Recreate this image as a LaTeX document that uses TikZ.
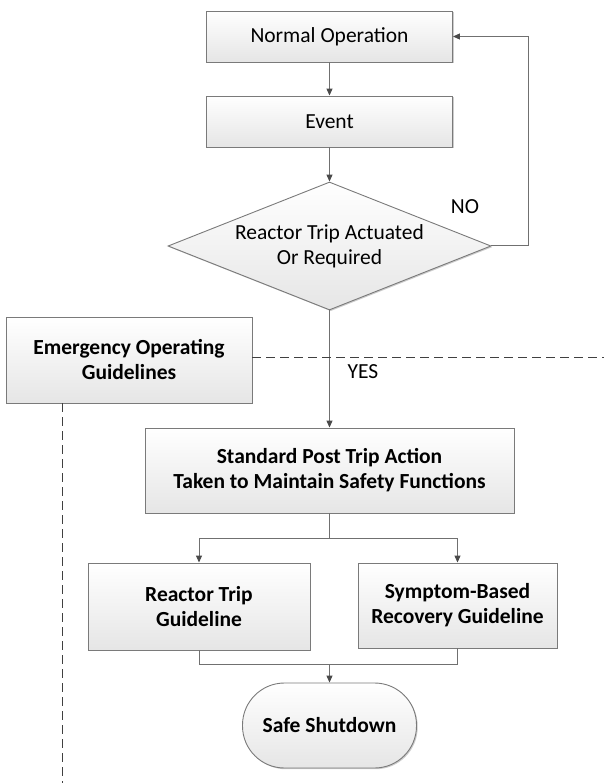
\documentclass[tikz,border=0pt]{standalone}
\usepackage{fontspec}
\setmainfont{Carlito}
\usetikzlibrary{shapes.geometric,arrows.meta,shadows}
\definecolor{edgegray}{HTML}{7A7A7A}
\definecolor{linegray}{HTML}{707070}
\definecolor{tipgray}{HTML}{4A4A4A}
\tikzset{
  boxstyle/.style={draw=edgegray, line width=0.9pt, rectangle, top color=white, bottom color=black!10,
    drop shadow={shadow xshift=1.2pt, shadow yshift=-1.2pt, opacity=0.2, fill=black},
    align=center, font=\fontsize{21.5}{25}\selectfont, inner sep=0pt},
  boldbox/.style={boxstyle, font=\fontsize{21.5}{25}\selectfont\bfseries},
  decstyle/.style={draw=edgegray, line width=0.9pt, diamond, top color=white, bottom color=black!10,
    drop shadow={shadow xshift=1.2pt, shadow yshift=-1.2pt, opacity=0.2, fill=black},
    align=center, font=\fontsize{21.5}{25}\selectfont, inner sep=0pt,
    minimum width=323pt, minimum height=128pt, aspect=2.52},
  conn/.style={draw=linegray, line width=1pt},
  arr/.style={conn, -{Triangle[length=7pt,width=6pt,fill=tipgray,color=tipgray]}},
  dashline/.style={draw=black!75, line width=1pt, dash pattern=on 9pt off 5pt},
  lbl/.style={font=\fontsize{21.5}{25}\selectfont, inner sep=0pt}
}
\begin{document}
\begin{tikzpicture}[x=1pt,y=-1pt]
\useasboundingbox (0,0) rectangle (604,783);
\node[boxstyle, minimum width=246pt, minimum height=51pt] (normal) at (329.5,36.5) {Normal Operation};
\node[boxstyle, minimum width=246pt, minimum height=51pt] (event) at (329.5,121.5) {Event};
\node[decstyle] (dec) at (329.5,246) {Reactor Trip Actuated\\Or Required};
\node[boldbox, minimum width=246pt, minimum height=86pt] (eog) at (129,360) {Emergency Operating\\Guidelines};
\node[boldbox, minimum width=369pt, minimum height=85pt] (std) at (329.5,470.5) {Standard Post Trip Action\\Taken to Maintain Safety Functions};
\node[boldbox, minimum width=222pt, minimum height=87pt] (rtg) at (199,606.5) {Reactor Trip\\Guideline};
\node[boldbox, minimum width=199pt, minimum height=85pt] (sbr) at (457.5,605.5) {Symptom-Based\\Recovery Guideline};
\node[boldbox, minimum width=174pt, minimum height=85pt, rounded corners=42pt] (safe) at (329.5,725.5) {Safe Shutdown};

\node[lbl] (no) at (465,207) {NO};
\node[lbl] (yes) at (363,372) {YES};

\coordinate (fb) at (528,246);
\coordinate (split) at (329.5,538);
\coordinate (merge) at (329.5,664);
\coordinate (dashend) at (604,357);
\coordinate (dashbot) at (62.7,783);

\draw[arr] (normal) -- (event);
\draw[arr] (event) -- (dec.north);
\draw[arr] (dec.east) -- (fb) |- (normal.east);
\draw[arr] (dec.south) -- (std.north);
\draw[conn] (std.south) -- (split);
\draw[arr] (split) -| (rtg.north);
\draw[arr] (split) -| (sbr.north);
\draw[conn] (rtg.south) |- (merge);
\draw[conn] (sbr.south) |- (merge);
\draw[arr] (merge) -- (safe.north);

\draw[dashline] (eog.east |- dashend) -- (dashend);
\draw[dashline] (eog.south -| dashbot) -- (dashbot);
\end{tikzpicture}
\end{document}
